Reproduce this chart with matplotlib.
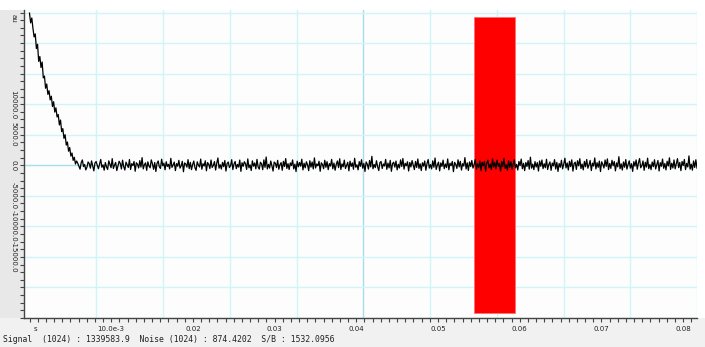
import numpy as np
import matplotlib.pyplot as plt
from matplotlib.patches import Rectangle
from matplotlib.ticker import MultipleLocator

# FID trace, evenly sampled between t_start and t_end (s)
t_start = 0.0
t_end = 0.0817

decay = [24900, 23300, 24100, 22400, 21000, 21500, 19100, 19800, 17000, 17800,
         16000, 16900, 14300, 14600, 12600, 13300, 11600, 12200, 10700, 11300,
         9600, 10400, 8700, 9400, 7900, 8300, 6600, 7400, 5500, 6000,
         4400, 5000, 3300, 3800, 2300, 2900, 1500, 2000, 800, 1300, 200, 700]

noise = [320, -150, -640, 410, 870, -220, 130, -760, -310, 540, 260, -480, 710, -90, -920, 380, 610, -40, -570, 220,
         950, -330, 60, -810, 440, -260, -690, 720, 180, -400, 1080, -530, 20, 460, -870, -120, 650, 300, -610, 830,
         -240, -780, 510, 90, -360, 940, -700, 260, -50, 620, -980, 410, 170, -450, 760, -300, 1240, -600, 80, 390,
         -830, 560, -140, -420, 880, 230, -660, 450, -1020, 310, 700, -260, -520, 990, -80, 340, -740, 580, -190, 150,
         -600, 1130, -350, 40, 520, -880, 270, -160, 800, -470, -90, 640, -1060, 380, 210, -310, 920, -560, 470, -720,
         120, 690, -410, -830, 560, 30, -290, 1010, -650, 250, -120, 730, -900, 440, 160, -540, 860, -370, -20, 600,
         -790, 340, 1190, -480, 90, -620, 470, -230, 780, -950, 290, 530, -380, -60, 910, -710, 200, 620, -560, 130,
         -300, 850, -1000, 410, -170, 580, 240, -680, 1040, -420, 60, -860, 720, -150, 370, -590, 960, -280, -640, 490,
         220, -730, 880, -340, 1350, -610, 150, -470, 690, -90, -950, 520, 310, -380, 800, -660, 100, 430, -820, 640,
         -200, 1090, -520, 260, -700, 380, -40, 870, -600, 190, -1030, 660, -250, 440, -150, 990, -760, 330, -420, 570,
         80, -880, 740, -310, 530, -610, 1200, -450, 210, -90, 650, -990, 400, 130, -560, 820, -340, 590, -720, 270,
         -130, 960, -580, 360, -820, 140, 700, -390, 1060, -700, 230, -260, 840, -530, -40, 480, -910, 670, -200, 380,
         -660, 1140, -320, 70, -750, 590, -170, 910, -480, 290, -1010, 540, 180, -630, 780, -270, 1460, -580, 120, -380,
         740, -240, -870, 430, 610, -540, 210, -120, 960, -670, 350, -430, 800, -990, 270, 500, -310, 690, -760, 160,
         -450, 880, -200, 1100, -630, 320, -80, 570, -940, 460, -280, 760, 40, -710, 620, -360, 1020, -520, 240, -870,
         410, -150, 690, -820, 280, 940, -470, 110, -600, 720, -330, 1180, -690, 50, 510, -920, 380, -190, 840, -560,
         200, -380, 1030, -740, 330, -60, 620, -1050, 470, 150, -520, 890, -270, 640, -790, 260, -130, 1250, -610, 390,
         -850, 550, -220, 780, -460, 100, 960, -640, 230, -370, 720, -880, 490, -90, 620, -1000, 350, 820, -410, 180,
         -700, 1070, -300, 460, -590, 830, -150, 290, -960, 610, -240, 1130, -520, 70, -810, 730, -350, 560, -670, 240,
         900, -430, 140, -780, 620, -60, 1010, -570, 310, -880, 450, -200, 770, -640, 1320, -480, 180, -720, 590, -290,
         430, -950, 700, -170, 860, -560, 250, -400, 980, -700, 120, 540, -830, 360, -110, 920, -620, 470, -1010, 290,
         -330, 820, -590, 160, 1150, -440, 380, -780, 650, -220, 890, -960, 280, 510, -680, 740, -100, 1070, -540, 200,
         -760, 630, -250, 950, -490, 60, 790, -870, 340, -130, 1190, -600, 420, -340, 680, -1030, 570, 150, -450, 860,
         -180, 1040, -710, 300, -520, 810, -80, 620, -920, 390, -260, 1400, -570, 230, -790, 540, -330, 930, -640, 110,
         720, -480, 250, -1000, 590, -140, 870, -650, 360, 1090, -410, -90, 700, -830, 480, -300, 1160, -560, 140, -720,
         530, -230, 900, -610, 60, 780, -940, 420, -170, 1010, -500, 290, -760, 650, -120, 1220, -680, 330, -440, 870,
         -580, 230, 1080, -390, 470, -880, 620, -50, 950, -720, 310, -280, 1530, -640, 180, -810, 700, -360, 900, -470]

signal = decay + noise

x_ticks = [0.01, 0.02, 0.03, 0.04, 0.05, 0.06, 0.07, 0.08]
x_labels = ["10.0e-3", "0.02", "0.03", "0.04", "0.05", "0.06", "0.07", "0.08"]
y_ticks = [-25000, -20000, -15000, -10000, -5000, 0, 5000, 10000, 15000, 20000, 25000]
y_labels = ["", "", "-15000.0", "-10000.0", "-5000.0", "0.0", "5000.0", "10000.0", "", "", ""]

# selected window (red)
win_t = [0.0544, 0.0594]
win_y = [-24200, 24300]

status = "Signal  (1024) : 1339583.9  Noise (1024) : 874.4202  S/B : 1532.0956"

W, H = 705, 347
fig = plt.figure(figsize=(W / 100, H / 100), dpi=100)
fig.patch.set_facecolor("white")

# grey frame strips
fig.patches.append(Rectangle((0, 29 / H), 24 / W, 308 / H, transform=fig.transFigure,
                             facecolor="#e8e8e8", edgecolor="none", zorder=-10))
fig.patches.append(Rectangle((0, 0), 1, 29 / H, transform=fig.transFigure,
                             facecolor="#f1f1f1", edgecolor="none", zorder=-10))

ax = fig.add_axes([24 / W, 29 / H, 673 / W, 308 / H])
ax.set_facecolor("#fdfdfd")

xmin = -(5.5 / 8170)
ymax = 25410
ax.set_xlim(xmin, t_end)
ax.set_ylim(-25000, ymax)

# screen-like grid: 10 divisions, centre lines darker
for k in range(1, 11):
    gx = t_end * k / 10
    ax.axvline(gx, color="#a8dce8" if k == 5 else "#cff5f8", lw=1.0, zorder=0)
for gy in y_ticks:
    ax.axhline(gy, color="#a8dce8" if gy == 0 else "#cff5f8", lw=1.0, zorder=0)

ax.add_patch(Rectangle((win_t[0], win_y[0]), win_t[1] - win_t[0], win_y[1] - win_y[0],
                       facecolor="#ff0000", edgecolor="#ff7070", lw=0.6, zorder=2))

t = np.linspace(t_start, t_end, len(signal))
ax.plot(t, signal, color="black", lw=0.9, zorder=3)

for s in ["top", "right"]:
    ax.spines[s].set_visible(False)
for s in ["left", "bottom"]:
    ax.spines[s].set_color("#444444")
    ax.spines[s].set_linewidth(1.0)

ax.set_xticks(x_ticks)
ax.set_xticklabels(x_labels)
ax.xaxis.set_minor_locator(MultipleLocator(0.001))
ax.set_yticks(y_ticks)
ax.set_yticklabels(y_labels, rotation=-90, va="center", ha="center")
ax.yaxis.set_minor_locator(MultipleLocator(1250))

ax.tick_params(axis="both", which="both", direction="out", length=3, width=0.8,
               color="#444444", labelsize=5, labelcolor="#222222")
ax.tick_params(axis="x", which="both", pad=2.5)
ax.tick_params(axis="y", which="both", pad=4.5)

ax.text(0.0007, -0.036, "s", transform=ax.get_xaxis_transform(), fontsize=5,
        color="#222222", ha="center", va="center")
fig.text(14 / W, 1 - 18 / H, "au", rotation=-90, fontsize=5, color="#222222",
         ha="center", va="center")

fig.text(3 / W, 1 - 340 / H, status, family="DejaVu Sans Mono", fontsize=5.85,
         color="#222222", ha="left", va="center")

fig.savefig("out.png", dpi=100)
